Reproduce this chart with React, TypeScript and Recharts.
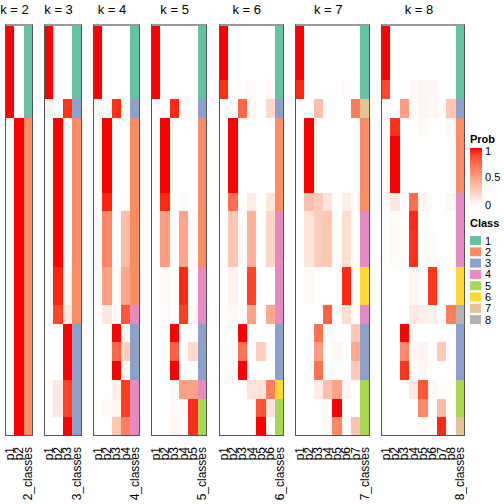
import React from 'react';
import { BarChart, Bar, XAxis, YAxis, Cell } from 'recharts';

const samples = ['s01','s02','s03','s04','s05','s06','s07','s08','s09','s10','s11','s12','s13','s14','s15','s16','s17','s18','s19','s20','s21','s22'];

const probK2 = [
  [1,0],[1,0],[1,0],[1,0],[1,0],
  [0,1],[0,1],[0,1],[0,1],[0,1],[0,1],[0,1],[0,1],[0,1],[0,1],[0,1],[0,1],[0,1],[0,1],[0,1],[0,1],[0,1],
];
const classK2 = [1,1,1,1,1,2,2,2,2,2,2,2,2,2,2,2,2,2,2,2,2,2];

const probK3 = [
  [1,0,0],[1,0,0],[1,0,0],[1,0,0],
  [0.08,0,0.92],
  [0,1,0],[0,1,0],[0,1,0],[0,1,0],[0,1,0],[0,1,0],[0,1,0],[0,1,0],
  [0,0.96,0.04],[0,0.96,0.04],
  [0,0.88,0.12],
  [0,0,1],[0,0,1],[0,0,1],
  [0,0.12,0.88],[0,0.12,0.88],
  [0,0,1],
];
const classK3 = [1,1,1,1,3,2,2,2,2,2,2,2,2,2,2,2,3,3,3,3,3,3];

const probK4 = [
  [1,0,0,0],[1,0,0,0],[1,0,0,0],[1,0,0,0],
  [0.05,0,0.93,0],
  [0,1,0,0],[0,1,0,0],[0,1,0,0],[0,1,0,0],
  [0,0.96,0,0.02],
  [0,0.62,0,0.35],[0,0.62,0,0.35],[0,0.62,0,0.35],
  [0,0.5,0.03,0.45],[0,0.5,0.03,0.45],
  [0,0.12,0.03,0.82],
  [0,0,1,0],
  [0,0,0.75,0.25],
  [0,0,1,0],
  [0,0,0.08,0.9],
  [0,0.03,0.05,0.9],
  [0,0,0.3,0.65],
];
const classK4 = [1,1,1,1,3,2,2,2,2,2,2,2,2,2,2,4,3,3,3,4,4,4];

const probK5 = [
  [1,0,0,0,0],[1,0,0,0,0],[1,0,0,0,0],[1,0,0,0,0],
  [0,0,0.95,0.02,0],
  [0,1,0,0,0],[0,1,0,0,0],[0,1,0,0,0],[0,1,0,0,0],
  [0,0.95,0,0.02,0],
  [0,0.5,0,0.47,0.02],[0,0.5,0,0.47,0.02],[0,0.5,0,0.47,0.02],
  [0,0.03,0,0.95,0],[0,0.03,0,0.95,0],
  [0,0.02,0,0.9,0.05],
  [0,0,1,0,0],
  [0,0,0.78,0,0.2],
  [0,0,1,0,0],
  [0,0,0.02,0.5,0.48],
  [0,0,0.03,0.03,0.94],
  [0,0,0.06,0,0.94],
];
const classK5 = [1,1,1,1,3,2,2,2,2,2,2,2,2,4,4,4,3,3,3,4,5,5];

const probK6 = [
  [1,0,0,0,0,0],[1,0,0,0,0,0],[1,0,0,0,0,0],
  [0.93,0,0,0.03,0,0.03],
  [0,0,0.75,0.04,0,0.2],
  [0,1,0,0,0,0],[0,1,0,0,0,0],[0,1,0,0,0,0],[0,1,0,0,0,0],
  [0,0.72,0,0.1,0,0.13],
  [0,0.3,0,0.4,0,0.22],[0,0.3,0,0.4,0,0.22],[0,0.3,0,0.4,0,0.22],
  [0,0.07,0,0.88,0,0],[0,0.07,0,0.88,0,0],
  [0,0.03,0,0.48,0,0.45],
  [0,0,1,0,0,0],
  [0,0,0.7,0,0.25,0.03],
  [0,0,1,0,0,0],
  [0,0,0,0.15,0.15,0.65],
  [0,0,0,0,0.83,0.15],
  [0,0,0,0,1,0],
];
const classK6 = [1,1,1,1,3,2,2,2,2,2,4,4,4,4,4,4,3,3,3,6,5,5];

const probK7 = [
  [1,0,0,0,0,0,0],[1,0,0,0,0,0,0],[1,0,0,0,0,0,0],
  [0.95,0,0,0,0,0.02,0],
  [0,0,0.33,0,0,0,0.67],
  [0,1,0,0,0,0,0],[0,1,0,0,0,0,0],[0,1,0,0,0,0,0],[0,1,0,0,0,0,0],
  [0,0.33,0.27,0.15,0,0.09,0.03],
  [0,0.14,0.27,0.3,0,0.18,0],[0,0.14,0.27,0.3,0,0.18,0],[0,0.14,0.27,0.3,0,0.18,0],
  [0,0.03,0,0,0,0.95,0],[0,0.03,0,0,0,0.95,0],
  [0,0,0,0.78,0,0.18,0],
  [0,0,0.7,0,0,0,0.3],
  [0,0,0.5,0,0.04,0,0.45],
  [0,0,0.7,0,0,0,0.28],
  [0,0,0.1,0.33,0.47,0.04,0],
  [0,0,0,0,1,0,0],
  [0,0,0,0.04,0.62,0,0.32],
];
const classK7 = [1,1,1,1,7,2,2,2,2,2,4,4,4,6,6,4,3,3,3,5,5,5];

const probK8 = [
  [1,0,0,0,0,0,0,0],[1,0,0,0,0,0,0,0],[1,0,0,0,0,0,0,0],
  [0.87,0,0,0.03,0.05,0.04,0,0],
  [0,0,0.5,0,0.06,0.04,0.02,0.3],
  [0,0.93,0,0,0.03,0,0,0.03],
  [0,1,0,0,0,0,0,0],[0,1,0,0,0,0,0,0],[0,1,0,0,0,0,0,0],
  [0,0.12,0,0.72,0.06,0,0,0.04],
  [0,0.03,0,0.95,0,0,0,0],
  [0,0.03,0,0.93,0,0.02,0,0],[0,0.03,0,0.93,0,0.02,0,0],
  [0,0,0,0.06,0,0.92,0,0],[0,0,0,0.06,0,0.92,0,0],
  [0,0,0,0.12,0.09,0.07,0,0.65],
  [0,0,1,0,0,0,0,0],
  [0,0,0.6,0.04,0.06,0,0.28,0],
  [0,0,0.92,0,0.04,0,0,0],
  [0,0,0,0.12,0.82,0.03,0,0],
  [0,0,0,0,0.6,0,0.35,0],
  [0,0,0,0,0.03,0,0.95,0],
];
const classK8 = [1,1,1,1,3,2,2,2,2,4,4,4,4,6,6,8,3,3,3,5,5,7];

const classColors = ['#66C2A5','#FC8D62','#8DA0CB','#E78AC3','#A6D854','#FFD92F','#E5C494','#B3B3B3'];
const classLabels = ['1','2','3','4','5','6','7','8'];
const probTicks = ['1','0.5','0'];

const panels = [
  { k: 2, probs: probK2, classes: classK2 },
  { k: 3, probs: probK3, classes: classK3 },
  { k: 4, probs: probK4, classes: classK4 },
  { k: 5, probs: probK5, classes: classK5 },
  { k: 6, probs: probK6, classes: classK6 },
  { k: 7, probs: probK7, classes: classK7 },
  { k: 8, probs: probK8, classes: classK8 },
];

// ---- colour ramp white -> red in LAB space ----
const toLin = (c: number) => { const v = c / 255; return v <= 0.04045 ? v / 12.92 : Math.pow((v + 0.055) / 1.055, 2.4); };
const fromLin = (v: number) => { const c = v <= 0.0031308 ? 12.92 * v : 1.055 * Math.pow(v, 1 / 2.4) - 0.055; return Math.round(Math.min(1, Math.max(0, c)) * 255); };
const rgbToLab = (rgb: number[]) => {
  const R = toLin(rgb[0]), G = toLin(rgb[1]), B = toLin(rgb[2]);
  const X = (0.4124564 * R + 0.3575761 * G + 0.1804375 * B) / 0.95047;
  const Y = 0.2126729 * R + 0.7151522 * G + 0.072175 * B;
  const Z = (0.0193339 * R + 0.119192 * G + 0.9503041 * B) / 1.08883;
  const f = (t: number) => (t > 216 / 24389 ? Math.cbrt(t) : (24389 / 27 * t + 16) / 116);
  const fx = f(X), fy = f(Y), fz = f(Z);
  return [116 * fy - 16, 500 * (fx - fy), 200 * (fy - fz)];
};
const labToRgb = (lab: number[]) => {
  const fy = (lab[0] + 16) / 116, fx = fy + lab[1] / 500, fz = fy - lab[2] / 200;
  const finv = (t: number) => (t * t * t > 216 / 24389 ? t * t * t : (116 * t - 16) / (24389 / 27));
  const X = finv(fx) * 0.95047, Y = finv(fy), Z = finv(fz) * 1.08883;
  const R = 3.2404542 * X - 1.5371385 * Y - 0.4985314 * Z;
  const G = -0.969266 * X + 1.8760108 * Y + 0.041556 * Z;
  const B = 0.0556434 * X - 0.2040259 * Y + 1.0572252 * Z;
  return [fromLin(R), fromLin(G), fromLin(B)];
};
const LAB_W = rgbToLab([255, 255, 255]);
const LAB_R = rgbToLab([255, 0, 0]);
const probColor = (p: number) => {
  const t = Math.min(1, Math.max(0, p));
  const lab = [0, 1, 2].map((i) => LAB_W[i] + (LAB_R[i] - LAB_W[i]) * t);
  const c = labToRgb(lab);
  return `rgb(${c[0]},${c[1]},${c[2]})`;
};

const FONT = '"Liberation Sans", Arial, Helvetica, sans-serif';
const COL_W = 9.35;
const GAP = 11.3;
const LEFT0 = 5;
const TOP = 24;
const BOTTOM = 436;
const H = 504;
const PAD = 8;

const makeTick = (labels: string[]) => (props: any) => {
  const { x, y, payload } = props;
  const idx = Math.round(payload.value - 0.5);
  const label = labels[idx] ?? '';
  return (
    <text
      x={x}
      y={y + 3}
      transform={`rotate(-90, ${x}, ${y + 3})`}
      textAnchor="end"
      dominantBaseline="central"
      fontSize={12}
      fontFamily={FONT}
      fill="#000"
    >
      {label}
    </text>
  );
};

function Panel({ k, probs, classes, left }: { k: number; probs: number[][]; classes: number[]; left: number }) {
  const ncol = k + 1;
  const w = ncol * COL_W;
  const keys = Array.from({ length: ncol }, (_, j) => `c${j}`);
  const data = samples.map((s) => {
    const row: any = { sample: s };
    keys.forEach((key) => { row[key] = 1; });
    return row;
  });
  const labels = [...Array.from({ length: k }, (_, j) => `p${j + 1}`), `${k}_classes`];
  const ticks = labels.map((_, j) => j + 0.5);
  return (
    <div style={{ position: 'absolute', left: left - PAD, top: 0, width: w + 2 * PAD, height: H }}>
      <div
        style={{
          position: 'absolute', left: PAD - 30, width: w + 60, top: 2, textAlign: 'center',
          fontFamily: FONT, fontSize: 13, color: '#000', transform: 'translateX(-4.5px)',
        }}
      >
        {`k = ${k}`}
      </div>
      <BarChart
        width={w + 2 * PAD}
        height={H}
        data={data}
        layout="vertical"
        margin={{ top: TOP, right: PAD, bottom: 0, left: PAD }}
        barCategoryGap={0}
        barGap={0}
      >
        <XAxis
          type="number"
          domain={[0, ncol]}
          ticks={ticks}
          interval={0}
          height={H - BOTTOM}
          axisLine={false}
          tickLine={false}
          tick={makeTick(labels)}
        />
        <YAxis type="category" dataKey="sample" hide />
        {keys.map((key, j) => (
          <Bar key={key} dataKey={key} stackId="s" isAnimationActive={false} shapeRendering="crispEdges">
            {data.map((_, i) => (
              <Cell
                key={i}
                fill={j < k ? probColor(probs[i][j]) : classColors[classes[i] - 1]}
                stroke="none"
              />
            ))}
          </Bar>
        ))}
      </BarChart>
      <div
        style={{
          position: 'absolute', left: PAD, top: TOP, width: w, height: BOTTOM - TOP,
          boxSizing: 'border-box', border: '1px solid #555', borderTop: '2px solid #999', pointerEvents: 'none',
        }}
      />
    </div>
  );
}

function Legend() {
  const gx = 470, gy0 = 148, gy1 = 206;
  const stops = [0, 0.1, 0.2, 0.3, 0.4, 0.5, 0.6, 0.7, 0.8, 0.9, 1];
  const tickYs = [gy0 + 3, (gy0 + gy1) / 2, gy1 - 1];
  return (
    <svg width={504} height={504} style={{ position: 'absolute', left: 0, top: 0, pointerEvents: 'none' }}>
      <defs>
        <linearGradient id="probgrad" x1="0" y1="1" x2="0" y2="0">
          {stops.map((s) => (
            <stop key={s} offset={s} stopColor={probColor(s)} />
          ))}
        </linearGradient>
      </defs>
      <text x={gx} y={143} fontFamily={FONT} fontSize={11} fontWeight="bold">Prob</text>
      <rect x={gx} y={gy0} width={12} height={gy1 - gy0} fill="url(#probgrad)" />
      {probTicks.map((t, i) => (
        <text key={t} x={gx + 15} y={tickYs[i]} dominantBaseline="central" fontFamily={FONT} fontSize={11}>{t}</text>
      ))}
      <text x={gx} y={227} fontFamily={FONT} fontSize={11} fontWeight="bold">Class</text>
      {classLabels.map((c, i) => (
        <g key={c}>
          <rect x={gx} y={236 + i * 11.3} width={11} height={9} fill={classColors[i]} />
          <text x={gx + 15} y={240.5 + i * 11.3} dominantBaseline="central" fontFamily={FONT} fontSize={11}>{c}</text>
        </g>
      ))}
    </svg>
  );
}

export default function App() {
  let x = LEFT0;
  const lefts = panels.map((p) => { const l = x; x += (p.k + 1) * COL_W + GAP; return l; });
  return (
    <div style={{ position: 'absolute', left: 0, top: 0, width: 504, height: 504, background: '#fff', overflow: 'hidden' }}>
      {panels.map((p, i) => (
        <Panel key={p.k} k={p.k} probs={p.probs} classes={p.classes} left={lefts[i]} />
      ))}
      <Legend />
    </div>
  );
}
